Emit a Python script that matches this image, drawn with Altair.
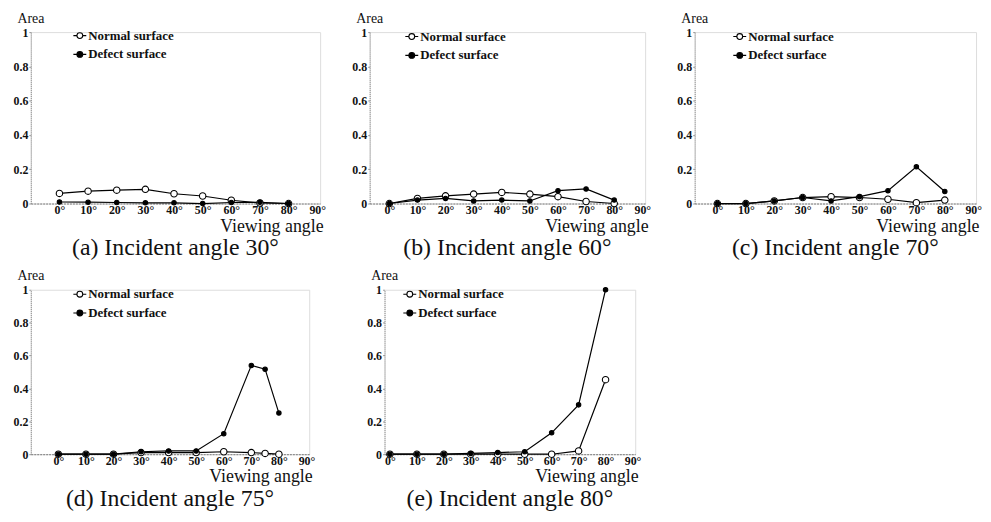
import altair as alt
import pandas as pd

angles = [0, 10, 20, 30, 40, 50, 60, 70, 80]
angles_d = [0, 10, 20, 30, 40, 50, 60, 70, 75, 80]

a_normal = [0.059, 0.072, 0.078, 0.083, 0.057, 0.044, 0.019, 0.003, 0.0]
a_defect = [0.009, 0.008, 0.006, 0.004, 0.004, 0.0, 0.006, 0.007, 0.0]

b_normal = [0.0, 0.03, 0.045, 0.055, 0.065, 0.055, 0.04, 0.012, 0.0]
b_defect = [0.0, 0.02, 0.03, 0.015, 0.02, 0.015, 0.075, 0.085, 0.02]

c_normal = [0.0, 0.0, 0.015, 0.035, 0.04, 0.035, 0.025, 0.005, 0.02]
c_defect = [0.0, 0.0, 0.015, 0.035, 0.015, 0.04, 0.075, 0.214, 0.07]

d_normal = [0.0, 0.0, 0.0, 0.01, 0.01, 0.01, 0.015, 0.01, 0.005, 0.0]
d_defect = [0.0, 0.0, 0.0, 0.015, 0.02, 0.02, 0.125, 0.54, 0.517, 0.25]

e_normal = [0.0, 0.0, 0.0, 0.0, 0.0, 0.0, 0.0, 0.02, 0.453]
e_defect = [0.0, 0.0, 0.0, 0.005, 0.01, 0.015, 0.13, 0.30, 1.0]

series_names = ["Normal surface", "Defect surface"]
x_ticks = [0, 10, 20, 30, 40, 50, 60, 70, 80, 90]
y_ticks = [0, 0.2, 0.4, 0.6, 0.8, 1]

SERIF = "Liberation Serif"
LEG_PATH = ("M-1,0H-0.45M0.45,0H1"
            "M-0.45,0A0.45,0.45,0,1,1,0.45,0A0.45,0.45,0,1,1,-0.45,0Z")


def panel(title, ang, normal, defect, x_lo, w, h, leg_x, leg_y):
    df = pd.DataFrame({
        "angle": list(ang) * 2,
        "area": list(normal) + list(defect),
        "series": [series_names[0]] * len(ang) + [series_names[1]] * len(ang),
    })
    base = alt.Chart(df)
    x = alt.X("angle:Q",
              scale=alt.Scale(domain=[x_lo, 91], nice=False, zero=False),
              axis=alt.Axis(values=x_ticks, labelExpr="datum.value + '°'",
                            title="Viewing angle", titleAnchor="end",
                            titleFont=SERIF, titleFontSize=18, titleFontWeight="normal",
                            titleColor="#111", titlePadding=2, titleX=w + 3,
                            titleAlign="right",
                            labelFont=SERIF, labelFontSize=12, labelFontWeight="bold",
                            labelColor="#111", labelPadding=1,
                            grid=False, domainColor="#777", domainDash=[2, 1],
                            tickSize=0, labelFlush=False))
    y = alt.Y("area:Q",
              scale=alt.Scale(domain=[0, 1], nice=False),
              axis=alt.Axis(values=y_ticks, format="~g",
                            title="Area", titleAngle=0, titleX=-14, titleY=-10,
                            titleAlign="left", titleBaseline="alphabetic",
                            titleFont=SERIF, titleFontSize=14, titleFontWeight="normal",
                            titleColor="#111",
                            labelFont=SERIF, labelFontSize=12, labelFontWeight="bold",
                            labelColor="#111", labelPadding=1,
                            grid=False, domainColor="#888", domainDash=[1, 1],
                            tickSize=2, tickColor="#999"))
    line = base.mark_line(color="black", strokeWidth=1.2).encode(
        x=x, y=y, detail="series:N")
    pts = base.mark_point(filled=True, stroke="black", strokeWidth=1.1, opacity=1).encode(
        x=x, y=y,
        fill=alt.Fill("series:N",
                      scale=alt.Scale(domain=series_names, range=["white", "black"]),
                      legend=alt.Legend(title=None, orient="none",
                                        legendX=leg_x, legendY=leg_y,
                                        symbolType=LEG_PATH, symbolSize=170,
                                        symbolStrokeColor="black", symbolStrokeWidth=1.1,
                                        labelFont=SERIF, labelFontSize=13,
                                        labelFontWeight="bold", labelColor="#111",
                                        rowPadding=4, labelOffset=1)),
        size=alt.condition(alt.datum.series == series_names[0],
                           alt.value(42), alt.value(20)))
    return alt.layer(line, pts).properties(
        width=w, height=h,
        title=alt.TitleParams(title, orient="bottom", font=SERIF, fontSize=24,
                              fontWeight="normal", color="#111", offset=1),
    )


H1, H2 = 173, 166
pa = panel("(a) Incident angle 30°", angles, a_normal, a_defect, -10, 292, H1, 42, -4)
pb = panel("(b) Incident angle 60°", angles, b_normal, b_defect, -7, 278, H1, 35, -3)
pc = panel("(c) Incident angle 70°", angles, c_normal, c_defect, -8, 284, H1, 38, -3)
pd_ = panel("(d) Incident angle 75°", angles_d, d_normal, d_defect, -10, 281, H2, 42, -3)
pe = panel("(e) Incident angle 80°", angles, e_normal, e_defect, -2, 253, H2, 18, -3)

row1 = alt.hconcat(pa, pb, pc, spacing=24).resolve_scale(fill="independent")
row2 = alt.hconcat(pd_, pe, spacing=50).resolve_scale(fill="independent")

chart = alt.vconcat(row1, row2, spacing=7).resolve_scale(
    fill="independent").properties(
    padding={"left": 4, "top": 0, "right": 0, "bottom": 0}).configure_view(
    stroke=None).configure(background="white")

chart.save("out.html", embed_options={"renderer": "svg", "actions": False})
